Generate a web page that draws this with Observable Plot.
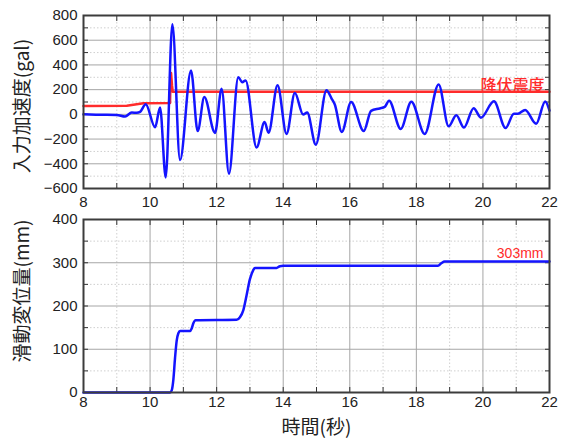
<!DOCTYPE html>
<html><head><meta charset="utf-8">
<script src="https://cdn.jsdelivr.net/npm/d3@7"></script>
<script src="https://cdn.jsdelivr.net/npm/@observablehq/plot@0.6"></script>
<style>
body{margin:0;background:#fff;}
#chart{width:563px;height:439px;position:relative;background:#fff;}
#chart svg{display:block;}
</style></head><body><div id="chart"></div>
<script>
// ---- data ----
const accTime = [8, 8.5, 9.0, 9.25, 9.45, 9.6, 9.7, 9.87, 10.15, 10.3, 10.47, 10.67, 10.9, 11.23, 11.43, 11.63, 11.95, 12.15, 12.37, 12.65, 12.77, 12.87, 13.2, 13.44, 13.56, 13.83, 14.1, 14.35, 14.6, 14.72, 14.98, 15.3, 15.45, 15.55, 15.76, 16.04, 16.42, 16.64, 16.9, 17.05, 17.18, 17.53, 17.85, 18.25, 18.67, 18.97, 19.2, 19.43, 19.72, 19.94, 20.33, 20.68, 20.93, 21.05, 21.27, 21.6, 21.87, 22];
const accGal = [0, -3, -5, -18, 15, 12, 20, 82, -105, 55, -510, 730, -370, 355, -135, 140, -150, 208, -480, 300, 260, 275, -268, -62, -148, 235, -158, 172, -2, 15, -245, 195, 130, 80, -142, 100, -135, 28, 48, 60, 110, -118, 103, -158, 242, -97, -7, -107, 50, -27, 106, -110, 5, 5, 36, -76, 104, 30];
const yieldTime = [8, 9.3, 9.55, 9.8, 10.6, 10.61, 10.63, 10.66, 10.68, 22];
const yieldGal = [68, 70, 80, 90, 92, 230, 335, 230, 183, 183];
const dispTime = [8, 10.6, 10.65, 10.7, 10.75, 10.8, 10.85, 10.9, 11.2, 11.25, 11.3, 11.37, 12.6, 12.7, 12.8, 12.9, 13.0, 13.1, 13.15, 13.8, 13.9, 14.0, 18.65, 18.75, 18.85, 22];
const dispMm = [0, 0, 5, 30, 80, 120, 137, 142, 142, 148, 160, 167, 168, 174, 190, 225, 262, 283, 288, 288, 292, 293, 293, 299, 303, 303];

const xTicksMajor = [8, 10, 12, 14, 16, 18, 20, 22];
const xTicksMinor = [9, 11, 13, 15, 17, 19, 21];
const accTicksMajor = [-600, -400, -200, 0, 200, 400, 600, 800];
const accTicksMinor = [-500, -300, -100, 100, 300, 500, 700];
const dispTicksMajor = [0, 100, 200, 300, 400];
const dispTicksMinor = [50, 150, 250, 350];

const accTitle = "入力加速度(gal)";
const dispTitle = "滑動変位量(mm)";
const xTitle = "時間(秒)";
const yieldLabel = "降伏震度";
const dispLabel = "303mm";

// ---- tables ----
const acc = accTime.map((t, i) => ({t, v: accGal[i]}));
const yld = yieldTime.map((t, i) => ({t, v: yieldGal[i]}));
const disp = dispTime.map((t, i) => ({t, v: dispMm[i]}));
const xAll = [...xTicksMajor, ...xTicksMinor];
const accAll = [...accTicksMajor, ...accTicksMinor];
const dispAll = [...dispTicksMajor, ...dispTicksMinor];

const numFont = "'Liberation Sans', Arial, Helvetica, sans-serif";
const cjkFont = "'Noto Sans CJK JP', 'Noto Sans', sans-serif";
const fmt = d3.format("d");
const blank = () => "";
const BLUE = "#1414ff", RED = "#ff2b2b";

function frameMarks(xMaj, xMin, yMaj, yMin, yAll) {
  return [
    Plot.gridX(xMin, {stroke: "#cfcfcf", strokeOpacity: 1, strokeDasharray: "1.5,2"}),
    Plot.gridY(yMin, {stroke: "#cfcfcf", strokeOpacity: 1, strokeDasharray: "1.5,2"}),
    Plot.gridX(xMaj, {stroke: "#a6a6a6", strokeOpacity: 1}),
    Plot.gridY(yMaj, {stroke: "#a6a6a6", strokeOpacity: 1}),
    Plot.axisX(xAll, {anchor: "bottom", tickSize: -5, tickFormat: blank, label: null, stroke: "#333"}),
    Plot.axisX(xAll, {anchor: "top", tickSize: -5, tickFormat: blank, label: null, stroke: "#333"}),
    Plot.axisY(yAll, {anchor: "left", tickSize: -5, tickFormat: blank, label: null, stroke: "#333"}),
    Plot.axisY(yAll, {anchor: "right", tickSize: -5, tickFormat: blank, label: null, stroke: "#333"})
  ];
}

const style = {fontFamily: numFont, fontSize: "15px", color: "#222", background: "#fff", overflow: "visible"};

const topPlot = Plot.plot({
  width: 563, height: 212,
  marginLeft: 83, marginRight: 14, marginTop: 15, marginBottom: 24,
  style,
  x: {domain: [8, 22]},
  y: {domain: [-600, 800]},
  marks: [
    ...frameMarks(xTicksMajor, xTicksMinor, accTicksMajor, accTicksMinor, accAll),
    Plot.axisX(xTicksMajor, {anchor: "bottom", tickSize: 0, tickPadding: 8, tickFormat: fmt, label: null, fill: "#222"}),
    Plot.axisY(accTicksMajor, {anchor: "left", tickSize: 0, tickPadding: 6, tickFormat: fmt, label: null, fill: "#222"}),
    Plot.line(yld, {x: "t", y: "v", stroke: RED, strokeWidth: 2.5}),
    Plot.line(acc, {x: "t", y: "v", stroke: BLUE, strokeWidth: 2.5, curve: "monotone-x"}),
    Plot.text([yieldLabel], {x: () => yieldTime[yieldTime.length - 1], y: () => yieldGal[yieldGal.length - 1], text: d => d, textAnchor: "end", lineAnchor: "bottom", dx: -5, dy: -1, fill: RED, fontSize: 16, fontWeight: 500, fontFamily: cjkFont}),
    Plot.text([accTitle], {text: d => d, frameAnchor: "left", textAnchor: "middle", lineAnchor: "middle", rotate: -90, dx: -61, dy: 4, fontSize: 19, fill: "#222", fontFamily: cjkFont}),
    Plot.frame({stroke: "#3c3c3c", strokeWidth: 2})
  ]
});

const botPlot = Plot.plot({
  width: 563, height: 227,
  marginLeft: 83, marginRight: 14, marginTop: 7, marginBottom: 47,
  style,
  x: {domain: [8, 22]},
  y: {domain: [0, 400]},
  marks: [
    ...frameMarks(xTicksMajor, xTicksMinor, dispTicksMajor, dispTicksMinor, dispAll),
    Plot.axisX(xTicksMajor, {anchor: "bottom", tickSize: 0, tickPadding: 4, tickFormat: fmt, label: null, fill: "#222"}),
    Plot.axisY(dispTicksMajor, {anchor: "left", tickSize: 0, tickPadding: 6, tickFormat: fmt, label: null, fill: "#222"}),
    Plot.line(disp, {x: "t", y: "v", stroke: BLUE, strokeWidth: 2.5, curve: "monotone-x"}),
    Plot.text([dispLabel], {x: () => dispTime[dispTime.length - 1], y: () => dispMm[dispMm.length - 1], text: d => d, textAnchor: "end", lineAnchor: "bottom", dx: -6, dy: -3, fill: RED, fontSize: 14, fontFamily: numFont}),
    Plot.text([dispTitle], {text: d => d, frameAnchor: "left", textAnchor: "middle", lineAnchor: "middle", rotate: -90, dx: -61, dy: -15, fontSize: 19, fill: "#222", fontFamily: cjkFont}),
    Plot.text([xTitle], {text: d => d, frameAnchor: "bottom", textAnchor: "middle", dy: 35, lineAnchor: "middle", fontSize: 19, fill: "#222", fontFamily: cjkFont}),
    Plot.frame({stroke: "#3c3c3c", strokeWidth: 2})
  ]
});

const el = document.getElementById("chart");
el.appendChild(topPlot);
el.appendChild(botPlot);
</script>
</body></html>
